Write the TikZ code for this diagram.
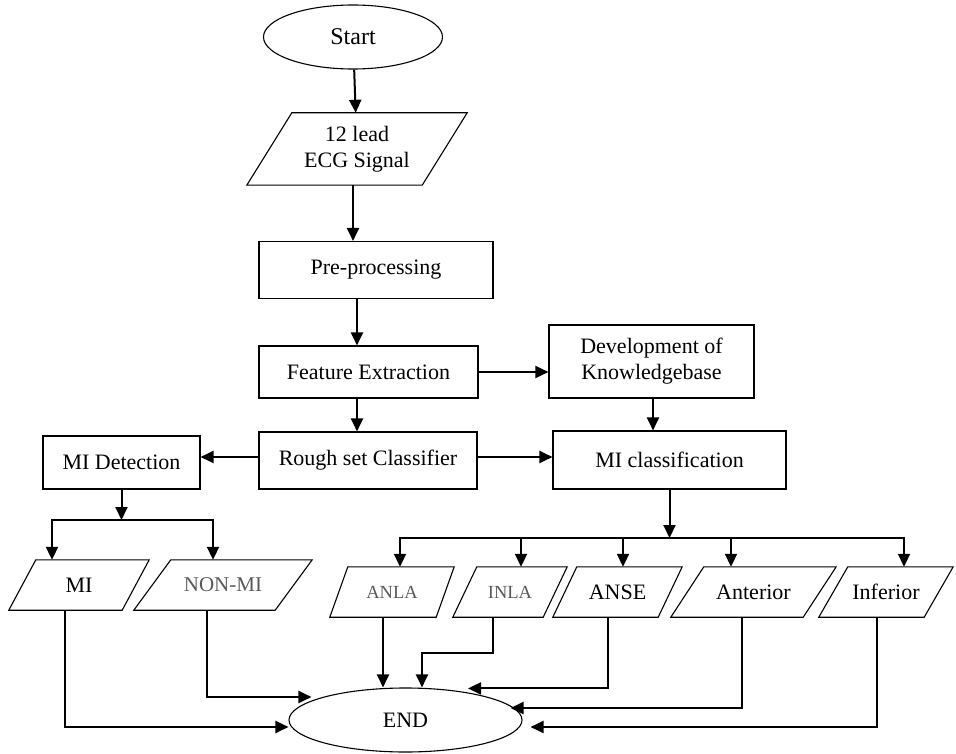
\documentclass[tikz,border=0pt]{standalone}
\usepackage{fontspec}
\setmainfont{Liberation Serif}
\usetikzlibrary{
    shapes.geometric,
    arrows.meta
}
\tikzset{
    block/.style={draw, line width=1.1pt, inner sep=2pt, align=center,
        font=\fontsize{22}{26}\selectfont}, % process box
    term/.style={draw, ellipse, line width=1.1pt, inner sep=0pt,
        font=\fontsize{22}{26}\selectfont}, % start and end
    io/.style 2 args={minimum width=#1, minimum height=50pt, inner sep=0pt,
        align=center, font=\fontsize{22}{26}\selectfont,
        append after command={\pgfextra{
            \draw[line width=1.1pt] ([xshift=#2]\tikzlastnode.north west)
                -- (\tikzlastnode.north east)
                -- ([xshift=-#2]\tikzlastnode.south east)
                -- (\tikzlastnode.south west) -- cycle;}}
    }, % data box: full width, slant offset
    faint/.style={text=black!65}, % lighter labels
    arr/.style={-{Triangle[length=13pt,width=12pt]}, line width=2pt},
}

\begin{document}
\begin{tikzpicture}[x=1pt, y=-1pt]
        \useasboundingbox (0,0) rectangle (956,754);
        % main column
        \node[term, minimum width=179pt, minimum height=64pt,
            font=\fontsize{24}{28}\selectfont] (start) at (353,37) {Start};
        \node[io={220pt}{45pt}, minimum height=72pt] (ecg) at (357,149) {12 lead\\ECG Signal};
        \node[block, minimum width=234pt, minimum height=57pt] (pre) at (376,270) {Pre-processing};
        \node[block, minimum width=219pt, minimum height=52pt] (feat) at (368.5,372) {Feature Extraction};
        \node[block, minimum width=205pt, minimum height=73pt] (know) at (651.5,361.5) {Development of\\Knowledgebase};
        \node[block, minimum width=218pt, minimum height=57pt] (rough) at (368,460.5) {Rough set Classifier};
        \node[block, minimum width=157pt, minimum height=53pt] (detect) at (121.5,462.5) {MI Detection};
        \node[block, minimum width=233pt, minimum height=58pt] (classify) at (669.5,460) {MI classification};
        % outcomes
        \node[io={140pt}{27pt}] (mi) at (79,585) {MI};
        \node[io={178pt}{37pt}, faint, font=\fontsize{21}{25}\selectfont] (nonmi) at (223,585) {NON-MI};
        \node[io={124pt}{18pt}, faint, font=\fontsize{18.5}{22}\selectfont] (anla) at (392,592) {ANLA};
        \node[io={114pt}{24pt}, faint, font=\fontsize{18.5}{22}\selectfont] (inla) at (510,592) {INLA};
        \node[io={129pt}{24pt}] (anse) at (617.5,592) {ANSE};
        \node[io={165pt}{33pt}] (ant) at (753.5,592) {Anterior};
        \node[io={134pt}{29pt}] (inf) at (886,592) {Inferior};
        \node[term, minimum width=233pt, minimum height=64pt] (stop) at (405.5,720) {END};

        \draw[arr] (start) -- (ecg);
        \draw[arr] ([xshift=-4pt]ecg.south) -- ([xshift=-4pt]ecg.south |- pre.north);
        \draw[arr] ([xshift=-11.5pt]feat.north |- pre.south) -- ([xshift=-11.5pt]feat.north);
        \draw[arr] (feat.east) -- (feat.east -| know.west);
        \draw[arr] ([xshift=-11.5pt]feat.south) -- ([xshift=-11.5pt]feat.south |- rough.north);
        \draw[arr] ([yshift=3.5pt]rough.west) -- ([yshift=3.5pt]rough.west -| detect.east);
        \draw[arr] ([yshift=3.5pt]rough.east) -- ([yshift=3.5pt]rough.east -| classify.west);
        \draw[arr] ([xshift=1.5pt]know.south) -- ([xshift=1.5pt]know.south |- classify.north);

        % split after detection
        \coordinate (detbus) at (detect.south |- 0,520);
        \draw[arr] (detect.south) -- (detbus);
        \draw[arr] (detbus) -| ([xshift=-27pt]mi.north);
        \draw[arr] (detbus) -| ([xshift=-10pt]nonmi.north);

        % split after classification
        \coordinate (clsbus) at (classify.south |- 0,538);
        \draw[arr] (classify.south) -- (clsbus);
        \draw[arr] (clsbus) -| ([xshift=8pt]anla.north);
        \draw[arr] (clsbus) -| ([xshift=11pt]inla.north);
        \draw[arr] (clsbus) -| ([xshift=5.5pt]anse.north);
        \draw[arr] (clsbus) -| ([xshift=-22.5pt]ant.north);
        \draw[arr] (clsbus) -| ([xshift=18pt]inf.north);

        % everything ends in END
        \draw[arr] ([xshift=-14pt]mi.south) |- ([yshift=-7pt]stop.west);
        \draw[arr] ([xshift=-16pt]nonmi.south) |- ([xshift=23pt,yshift=23pt]stop.west);
        \draw[arr] ([xshift=-9pt]anla.south) -- ([xshift=-9pt]anla.south |- stop.north);
        \draw[arr] ([xshift=-17pt]inla.south) -- ++(0,36) -| ([xshift=16.5pt]stop.north);
        \draw[arr] ([xshift=-9.5pt]anse.south) |- ([xshift=62.5pt,yshift=-1pt]stop.north);
        \draw[arr] ([xshift=-11.5pt]ant.south) |- ([xshift=-12pt,yshift=12pt]stop.east);
        \draw[arr] ([xshift=-9pt]inf.south) |- ([xshift=8pt,yshift=-7pt]stop.east);
    \end{tikzpicture}
\end{document}
